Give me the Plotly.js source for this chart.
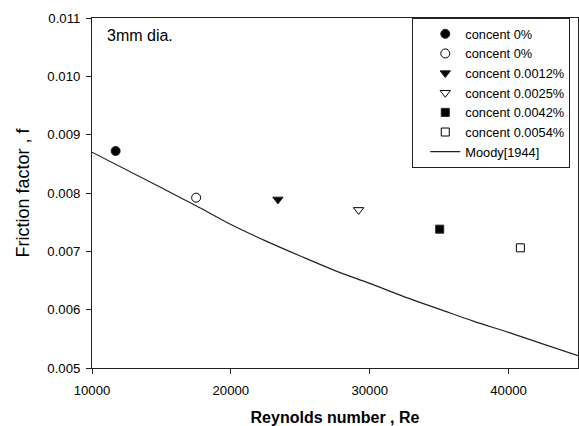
<!DOCTYPE html>
<html>
<head>
<meta charset="utf-8">
<script src="https://cdn.plot.ly/plotly-3.0.1.min.js"></script>
<style>
  html, body { margin: 0; padding: 0; background: #fff; }
  #chart { width: 579px; height: 426px; }
</style>
</head>
<body>
<div id="chart"></div>
<script>
// Measured friction factors for each concentration (Reynolds number, friction factor)
const seriesNames = ['concent 0%', 'concent 0%', 'concent 0.0012%', 'concent 0.0025%', 'concent 0.0042%', 'concent 0.0054%'];
const seriesRe = [11700, 17500, 23390, 29200, 35040, 40850];
const seriesF = [0.00872, 0.00792, 0.00789, 0.00771, 0.00738, 0.00706];
const seriesSymbols = ['circle', 'circle-open', 'triangle-down', 'triangle-down-open', 'square', 'square-open'];

// Moody [1944] reference curve
const moodyRe = [10000, 15000, 17500, 20000, 22500, 25000, 27500, 30000, 32500, 35000, 37500, 40000, 42500, 45000];
const moodyF = [0.00870, 0.00809, 0.00778, 0.00746, 0.00718, 0.00692, 0.00667, 0.00645, 0.00622, 0.00601, 0.00580, 0.00561, 0.00541, 0.00521];

const FONT = 'Liberation Sans, Arial, sans-serif';

const traces = seriesNames.map((name, i) => ({
  type: 'scatter',
  mode: 'markers',
  name: name,
  x: [seriesRe[i]],
  y: [seriesF[i]],
  marker: {
    symbol: seriesSymbols[i],
    size: seriesSymbols[i].startsWith('square') ? 8 : 9,
    color: '#000',
    line: { color: '#222', width: 1 }
  }
}));

traces.push({
  type: 'scatter',
  mode: 'lines',
  name: 'Moody[1944]',
  x: moodyRe,
  y: moodyF,
  line: { color: '#222', width: 1.2, shape: 'spline' }
});

const layout = {
  width: 579,
  height: 426,
  margin: { l: 92, r: 1, t: 18, b: 58 },
  paper_bgcolor: '#fff',
  plot_bgcolor: '#fff',
  font: { family: FONT, size: 13, color: '#000' },
  showlegend: true,
  legend: {
    x: 0.659, xanchor: 'left',
    y: 1, yanchor: 'top',
    bgcolor: '#fff',
    bordercolor: '#222',
    borderwidth: 1,
    indentation: 12,
    font: { family: FONT, size: 12.8, color: '#000' },
    tracegroupgap: 0
  },
  xaxis: {
    range: [10000, 45000],
    tickvals: [10000, 20000, 30000, 40000],
    ticktext: ['10000', '20000', '30000', '40000'],
    ticks: 'outside', ticklen: 5, tickcolor: '#222', tickwidth: 1,
    ticklabelstandoff: 5,
    showline: true, linecolor: '#222', linewidth: 1, mirror: true,
    showgrid: false, zeroline: false,
    tickfont: { family: FONT, size: 13.2, color: '#000' },
    title: { text: '<b>Reynolds number , Re</b>', font: { family: FONT, size: 16, color: '#000' }, standoff: 16 }
  },
  yaxis: {
    range: [0.005, 0.011],
    tickvals: [0.005, 0.006, 0.007, 0.008, 0.009, 0.010, 0.011],
    ticktext: ['0.005', '0.006', '0.007', '0.008', '0.009', '0.010', '0.011'],
    ticks: 'outside', ticklen: 5, tickcolor: '#222', tickwidth: 1,
    ticklabelstandoff: 3,
    showline: true, linecolor: '#222', linewidth: 1, mirror: true,
    showgrid: false, zeroline: false,
    tickfont: { family: FONT, size: 13.2, color: '#000' },
    title: { text: 'Friction factor , f', font: { family: FONT, size: 18, color: '#000' }, standoff: 13 }
  },
  annotations: [{
    text: '3mm dia.',
    xref: 'paper', yref: 'paper',
    x: 0.026, y: 0.95,
    xanchor: 'left', yanchor: 'middle',
    showarrow: false,
    font: { family: FONT, size: 16, color: '#000' }
  }]
};

Plotly.newPlot('chart', traces, layout, { displayModeBar: false, staticPlot: true });
</script>
</body>
</html>
